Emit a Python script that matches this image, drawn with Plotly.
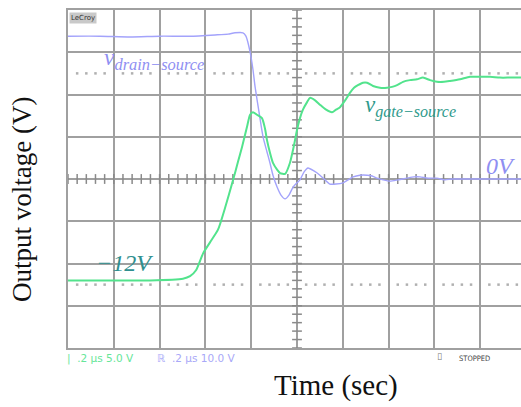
import numpy as np
import plotly.graph_objects as go

# ---- data (time in microseconds, voltage in volts) ----
gate_t = [-1.000, -0.773, -0.642, -0.498, -0.467, -0.441, -0.410, -0.380, -0.345, -0.314,
          -0.279, -0.258, -0.240, -0.218, -0.205, -0.192, -0.175, -0.153, -0.140, -0.131,
          -0.118, -0.105, -0.087, -0.074, -0.052, -0.031, -0.013, 0.000, 0.013, 0.026,
          0.044, 0.057, 0.079, 0.100, 0.127, 0.153, 0.170, 0.188, 0.210, 0.231,
          0.249, 0.266, 0.288, 0.306, 0.332, 0.362, 0.393, 0.415, 0.437, 0.463,
          0.493, 0.524, 0.550, 0.581, 0.611, 0.642, 0.668, 0.712, 0.755, 0.799,
          0.843, 0.886, 0.930, 0.978]
gate_v = [-12.0, -12.0, -12.0, -11.8, -11.5, -10.8, -8.8, -7.5, -6.0, -3.4,
          -0.1, 2.0, 3.8, 6.2, 7.6, 7.9, 7.6, 7.2, 6.0, 4.6,
          3.1, 1.9, 1.1, 0.7, 0.6, 1.9, 4.0, 5.8, 7.2, 8.2,
          9.1, 9.6, 9.3, 8.8, 8.2, 7.9, 8.2, 8.5, 9.3, 10.2,
          10.8, 11.1, 11.4, 11.4, 11.0, 10.8, 10.8, 10.9, 11.1, 11.5,
          11.7, 11.8, 12.0, 11.7, 11.5, 11.5, 11.6, 11.8, 12.1, 12.1,
          12.1, 12.0, 12.0, 12.0]

drain_t = [-1.000, -0.860, -0.729, -0.598, -0.467, -0.358, -0.301, -0.271, -0.236, -0.223,
           -0.205, -0.192, -0.183, -0.166, -0.148, -0.131, -0.118, -0.105, -0.087, -0.070,
           -0.052, -0.035, -0.017, 0.000, 0.013, 0.031, 0.048, 0.074, 0.100, 0.122,
           0.144, 0.170, 0.201, 0.223, 0.245, 0.275, 0.306, 0.328, 0.349, 0.376,
           0.406, 0.441, 0.480, 0.511, 0.537, 0.572, 0.611, 0.646, 0.677, 0.755,
           0.843, 0.978]
drain_v = [33.8, 33.8, 33.6, 33.8, 33.8, 34.1, 34.3, 34.6, 34.6, 33.8,
           30.1, 25.8, 21.8, 15.9, 9.9, 6.4, 3.8, 0.9, -1.9, -3.8,
           -4.7, -3.8, -1.9, -0.9, -0.2, 1.7, 2.6, 1.9, 0.9, -0.2,
           -1.2, -1.2, -0.9, -0.2, 0.5, 0.9, 0.9, 0.7, 0.2, -0.2,
           -0.5, -0.2, 0.2, 0.5, 0.5, 0.2, 0.2, -0.2, 0.0, 0.0,
           0.0, 0.0]

gate_scale = 5.0    # V/div
drain_scale = 10.0  # V/div
time_div = 0.2      # us/div

GRID = "#a0a0a0"
GREEN = "#52e38c"
LAV = "#a3a3fb"

fig = go.Figure()

# graticule: dotted sub-lines at +/-2.5 div
xd = np.round(np.arange(-1.0, 1.0, time_div / 5), 4)
xd = [x for x in xd if abs(x / time_div - round(x / time_div)) > 1e-6]
for yy in (2.5, -2.5):
    fig.add_trace(go.Scatter(x=xd, y=[yy] * len(xd), mode="markers",
                             marker=dict(symbol="square", size=2.5, color="#b0b0b0"),
                             hoverinfo="skip", showlegend=False))
# center-axis tick marks
yt = np.round(np.arange(-4, 4.01, 0.2), 3)
fig.add_trace(go.Scatter(x=[0] * len(yt), y=yt, mode="markers",
                         marker=dict(symbol="line-ew", size=7, line=dict(width=1.5, color="#8a8a8a")),
                         hoverinfo="skip", showlegend=False))
xt = np.round(np.arange(-1.0, 1.0, time_div / 5), 4)
fig.add_trace(go.Scatter(x=xt, y=[0] * len(xt), mode="markers",
                         marker=dict(symbol="line-ns", size=7, line=dict(width=1.5, color="#8a8a8a")),
                         hoverinfo="skip", showlegend=False))

# traces
fig.add_trace(go.Scatter(x=drain_t, y=[v / drain_scale for v in drain_v], mode="lines",
                         line=dict(color=LAV, width=1.4, shape="spline", smoothing=0.6),
                         showlegend=False))
fig.add_trace(go.Scatter(x=gate_t, y=[v / gate_scale for v in gate_v], mode="lines",
                         line=dict(color=GREEN, width=2, shape="spline", smoothing=0.6),
                         showlegend=False))

serif = "Liberation Serif, Times New Roman, serif"
ann = [
    dict(x=-0.850, y=2.85, xanchor="left", yanchor="middle",
         text="<i>v<sub>drain−source</sub></i>", font=dict(family=serif, size=23.5, color="#8f8ff2")),
    dict(x=0.288, y=1.72, xanchor="left", yanchor="middle",
         text="<i>v<sub>gate−source</sub></i>", font=dict(family=serif, size=23, color="#2f9a8c")),
    dict(x=-0.885, y=-1.99, xanchor="left", yanchor="middle",
         text="<i>−12V</i>", font=dict(family=serif, size=24, color="#2f8f8f")),
    dict(x=0.818, y=0.31, xanchor="left", yanchor="middle",
         text="<i>0V</i>", font=dict(family=serif, size=24, color="#8f8ff2")),
]
for a in ann:
    a.update(xref="x", yref="y", showarrow=False)
    fig.add_annotation(**a)

# paper annotations
def px(xp):
    return (xp - 68) / 453.0

def py(yp):
    return (348 - yp) / 338.0

fig.add_annotation(xref="paper", yref="paper", x=px(69), y=py(12), xanchor="left", yanchor="top",
                   text="LeCroy", showarrow=False, bgcolor="#c9c9c9", borderpad=1,
                   font=dict(family="DejaVu Sans", size=7, color="#333333"))
fig.add_annotation(xref="paper", yref="paper", x=px(65), y=py(358), xanchor="left", yanchor="middle",
                   text="|  .2 µs 5.0 V", showarrow=False,
                   font=dict(family="DejaVu Sans", size=10.5, color="#66e699"))
fig.add_annotation(xref="paper", yref="paper", x=px(155), y=py(358), xanchor="left", yanchor="middle",
                   text="ℝ  .2 µs 10.0 V", showarrow=False,
                   font=dict(family="DejaVu Sans", size=10.5, color="#a8a8f8"))
fig.add_annotation(xref="paper", yref="paper", x=px(435), y=py(356), xanchor="left", yanchor="middle",
                   text="▯", showarrow=False,
                   font=dict(family="DejaVu Sans", size=9, color="#777777"))
fig.add_annotation(xref="paper", yref="paper", x=px(457), y=py(358), xanchor="left", yanchor="middle",
                   text="STOPPED", showarrow=False,
                   font=dict(family="DejaVu Sans Condensed, DejaVu Sans", size=7.5, color="#444444"))
fig.add_annotation(xref="paper", yref="paper", x=px(336), y=py(386), xanchor="center", yanchor="middle",
                   text="Time (sec)", showarrow=False,
                   font=dict(family=serif, size=29, color="#111111"))
fig.add_annotation(xref="paper", yref="paper", x=px(22), y=py(200), xanchor="center", yanchor="middle",
                   text="Output voltage (V)", showarrow=False, textangle=-90,
                   font=dict(family=serif, size=27, color="#111111"))

x_right = (521 - 297) / 45.8 * time_div
fig.update_xaxes(range=[-1.0, x_right], dtick=time_div, tick0=0, showgrid=True, gridcolor=GRID,
                 gridwidth=2, zeroline=False, showticklabels=False, ticks="",
                 showline=True, linecolor=GRID, linewidth=2, mirror=True)
fig.update_yaxes(range=[-4, 4], dtick=1, tick0=0, showgrid=True, gridcolor=GRID, gridwidth=2,
                 zeroline=False, showticklabels=False, ticks="",
                 showline=True, linecolor=GRID, linewidth=2, mirror=False)

fig.update_layout(width=521, height=407, margin=dict(l=68, r=0, t=10, b=59),
                  plot_bgcolor="white", paper_bgcolor="white")

fig.write_html("out.html")
